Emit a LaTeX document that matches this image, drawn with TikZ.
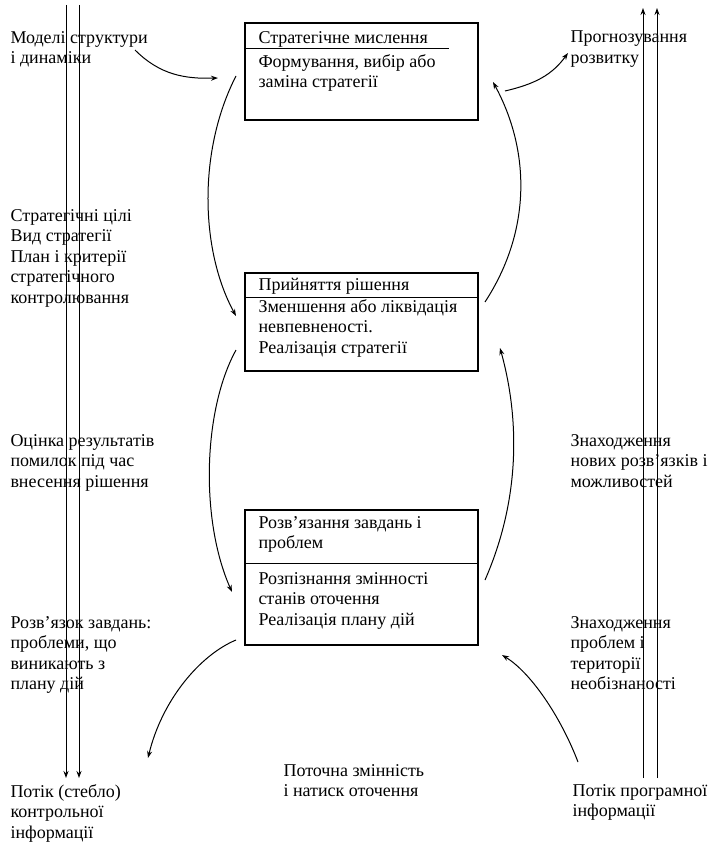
\documentclass[tikz,border=0pt]{standalone}
\usepackage{fontspec}
\setmainfont{Liberation Serif}
\usepackage{tikz}
\usetikzlibrary{arrows.meta,positioning,calc}

\begin{document}
\begin{tikzpicture}[x=1pt,y=-1pt,>={Stealth[length=7pt,width=5pt]},line width=1pt,
  every node/.style={font=\fontsize{18}{20.5}\selectfont},
  lbl/.style={anchor=north west,align=left,inner sep=0pt,yshift=14.35pt,
    execute at begin node={\strut}},
  blk/.style={draw,rectangle,line width=1.3pt,inner sep=0pt}]
\useasboundingbox (0,0) rectangle (717,845);
% boxes
\node[blk,minimum width=233pt,minimum height=97pt] (b1) at (361.5,71.5) {};
\node[blk,minimum width=233pt,minimum height=98pt] (b2) at (361.5,322) {};
\node[blk,minimum width=233pt,minimum height=135pt] (b3) at (361.5,577.5) {};
\draw ($(b1.north west)+(0,26)$) -- ($(b1.north west)+(205,26)$);
\draw ($(b2.north west)+(0,25)$) -- ($(b2.north east)+(0,25)$);
\draw ($(b3.north west)+(0,54)$) -- ($(b3.north east)+(0,54)$);
\node[lbl] (t1) at (258,43) {Стратегічне мислення};
\node[lbl] (s1) at (258,68) {Формування, вибір або\\заміна стратегії};
\node[lbl] (t2) at (258,290) {Прийняття рішення};
\node[lbl] (s2) at (258,313) {Зменшення або ліквідація\\невпевненості.\\Реалізація стратегії};
\node[lbl] (t3) at (258,530) {Розв’язання завдань і\\проблем};
\node[lbl] (s3) at (258,586) {Розпізнання змінності\\станів оточення\\Реалізація плану дій};
% side texts
\node[lbl] (models) at (10,45) {Моделі структури\\і динаміки};
\node[lbl] (goals) at (10,223) {Стратегічні цілі\\Вид стратегії\\План і критерії\\стратегічного\\контролювання};
\node[lbl] (eval) at (10,448) {Оцінка результатів\\помилок під час\\внесення рішення};
\node[lbl] (tasks) at (10,630) {Розв’язок завдань:\\проблеми, що\\виникають з\\плану дій};
\node[lbl] (ctrl) at (10,798) {Потік (стебло)\\контрольної\\інформації};
\node[lbl] (env) at (283,778) {Поточна змінність\\і натиск оточення};
\node[lbl] (fcst) at (570,45) {Прогнозування\\розвитку};
\node[lbl] (newsol) at (570,448) {Знаходження\\нових розв’язків і\\можливостей};
\node[lbl] (probl) at (570,630) {Знаходження\\проблем і\\території\\необізнаності};
\node[lbl] (prog) at (572,798) {Потік програмної\\інформації};
% flow lines
\coordinate (l1a) at (66,5);   \coordinate (l1b) at (66,778);
\coordinate (l2a) at (79,5);   \coordinate (l2b) at (79,778);
\coordinate (r1a) at (643,778); \coordinate (r1b) at (643,8);
\coordinate (r2a) at (657,778); \coordinate (r2b) at (657,8);
\draw[->] (l1a)--(l1b);
\draw[->] (l2a)--(l2b);
\draw[->] (r1a)--(r1b);
\draw[->] (r2a)--(r2b);
% curved arrows
\coordinate (m1) at (135,50);  \coordinate (m2) at (218,78);
\coordinate (f1) at (505,91);  \coordinate (f2) at (568,53);
\coordinate (a1) at (236,76);  \coordinate (a2) at (236,316);
\coordinate (c1) at (485,302); \coordinate (c2) at (493,82);
\coordinate (a3) at (236,350); \coordinate (a4) at (232,592);
\coordinate (c3) at (485,580); \coordinate (c4) at (500,348);
\coordinate (e1) at (236,640); \coordinate (e2) at (148,758);
\coordinate (p1) at (578,762); \coordinate (p2) at (502,655);
\draw[->] (m1) .. controls (160,75) and (185,79) .. (m2);
\draw[->] (f1) .. controls (535,84) and (552,75) .. (f2);
\draw[->] (a1) .. controls (198,150) and (200,250) .. (a2);
\draw[->] (c1) .. controls (532,230) and (530,150) .. (c2);
\draw[->] (a3) .. controls (203,410) and (200,520) .. (a4);
\draw[->] (c3) .. controls (520,500) and (520,420) .. (c4);
\draw[->] (e1) .. controls (200,655) and (162,700) .. (e2);
\draw[->] (p1) .. controls (560,715) and (530,672) .. (p2);
\end{tikzpicture}
\end{document}
